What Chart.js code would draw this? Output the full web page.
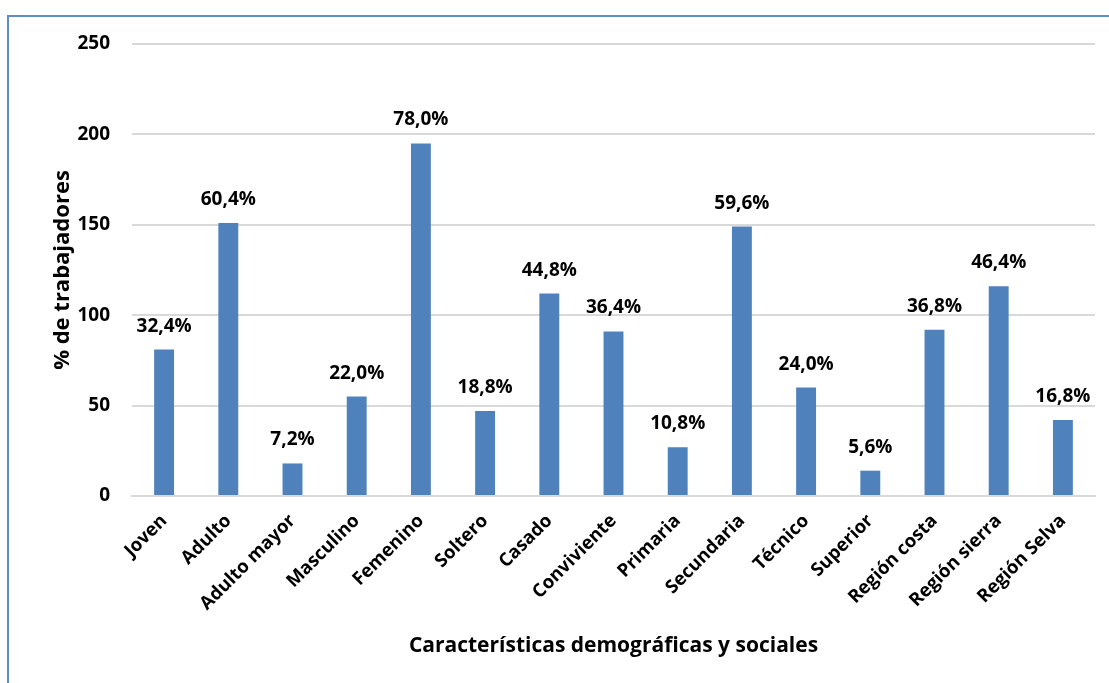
<!DOCTYPE html>
<html>
<head>
<meta charset="utf-8">
<script src="https://cdn.jsdelivr.net/npm/chart.js@4"></script>
<style>
  html, body { margin: 0; padding: 0; background: #fff; }
  .frame {
    position: absolute; left: 0; top: 0; width: 1109px; height: 683px;
  }
  .frame-border {
    position: absolute; left: 7px; top: 15px; right: 0; bottom: 0;
    border-left: 2px solid #5B8CCB; border-top: 2px solid #5B8CCB;
  }
</style>
</head>
<body>
<div class="frame">
  <canvas id="chart" width="1109" height="683"></canvas>
  <div class="frame-border"></div>
</div>
<script>
var categories = ['Joven', 'Adulto', 'Adulto mayor', 'Masculino', 'Femenino', 'Soltero', 'Casado',
  'Conviviente', 'Primaria', 'Secundaria', 'Técnico', 'Superior', 'Región costa', 'Región sierra', 'Región Selva'];
var counts = [81, 151, 18, 55, 195, 47, 112, 91, 27, 149, 60, 14, 92, 116, 42];
var pctLabels = ['32,4%', '60,4%', '7,2%', '22,0%', '78,0%', '18,8%', '44,8%', '36,4%', '10,8%',
  '59,6%', '24,0%', '5,6%', '36,8%', '46,4%', '16,8%'];

var FONT = '"Open Sans", sans-serif';

// labels above each bar
var barLabels = {
  id: 'barLabels',
  afterDatasetsDraw: function(chart) {
    var ctx = chart.ctx;
    var meta = chart.getDatasetMeta(0);
    ctx.save();
    ctx.font = 'bold 19px ' + FONT;
    ctx.fillStyle = '#000';
    ctx.textAlign = 'center';
    ctx.textBaseline = 'alphabetic';
    meta.data.forEach(function(bar, i) {
      ctx.fillText(pctLabels[i], bar.x, bar.y - 18);
    });
    ctx.restore();
  }
};

new Chart(document.getElementById('chart'), {
  type: 'bar',
  data: {
    labels: categories,
    datasets: [{
      data: counts,
      backgroundColor: '#4F81BD',
      categoryPercentage: 1,
      barPercentage: 0.31
    }]
  },
  plugins: [barLabels],
  options: {
    responsive: false,
    animation: false,
    layout: { padding: { left: 46, right: 14, top: 44, bottom: 24 } },
    plugins: { legend: { display: false }, tooltip: { enabled: false } },
    scales: {
      x: {
        grid: { display: false, drawTicks: false },
        border: { color: '#D9D9D9', width: 2 },
        ticks: {
          color: '#000', font: { family: FONT, size: 18.5, weight: 'bold' },
          minRotation: 45, maxRotation: 45, padding: 14
        },
        title: {
          display: true, text: 'Características demográficas y sociales',
          color: '#000', font: { family: FONT, size: 21, weight: 'bold' },
          padding: { top: 0, bottom: 0 }
        },
        afterFit: function(scale) { scale.height = 163; }
      },
      y: {
        min: 0, max: 250,
        grid: { color: '#D9D9D9', lineWidth: 2, drawTicks: false },
        border: { display: false },
        ticks: {
          stepSize: 50, color: '#000', padding: 22,
          font: { family: FONT, size: 19, weight: 'bold' }
        },
        title: {
          display: true, text: '% de trabajadores',
          color: '#000', font: { family: FONT, size: 22, weight: 'bold' },
          padding: { bottom: 6 }
        },
        afterFit: function(scale) { scale.width = 86; }
      }
    }
  }
});
</script>
</body>
</html>
